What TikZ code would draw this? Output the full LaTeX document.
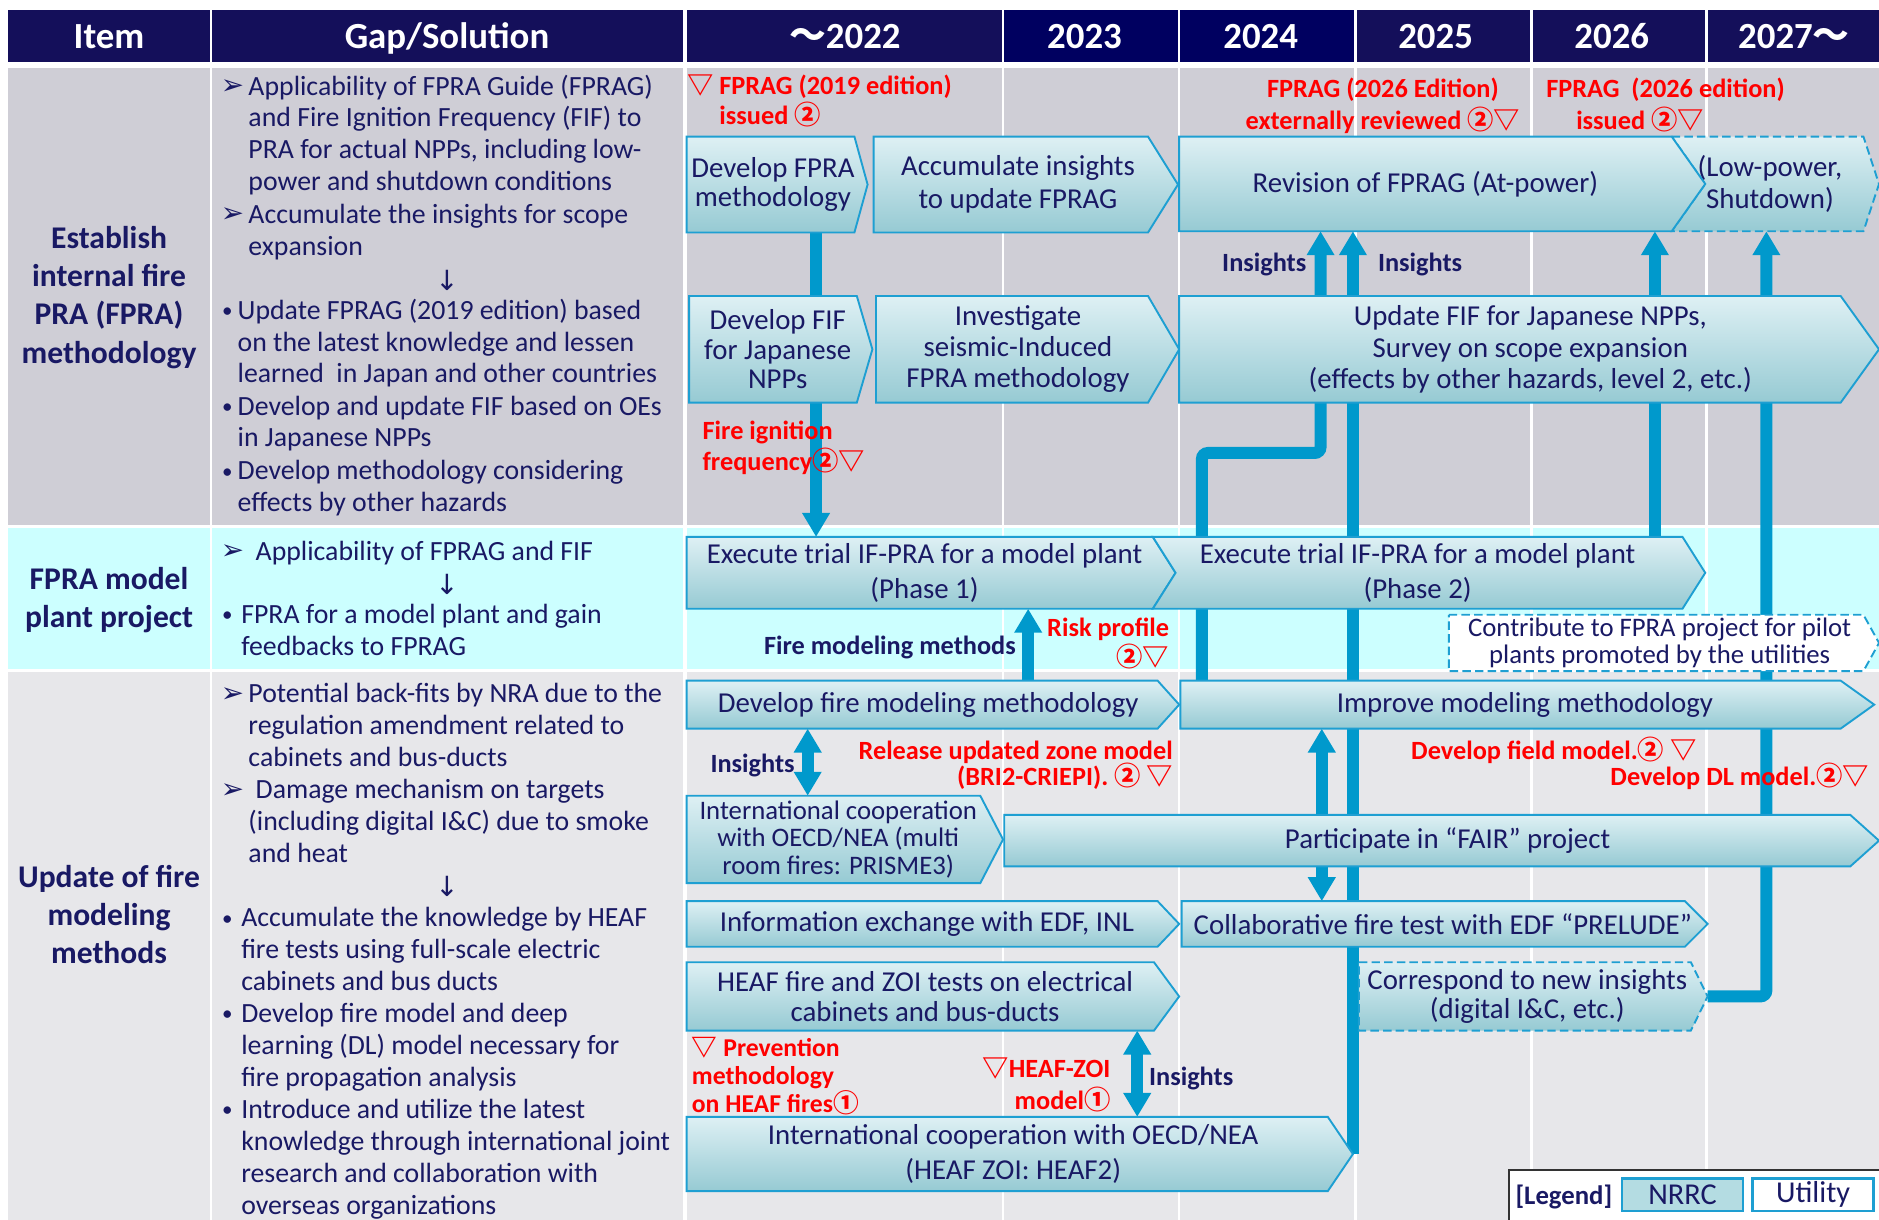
\documentclass[tikz,border=0pt]{standalone}
\usepackage{fontspec}
\setmainfont{Carlito}
\newfontfamily\symf{DejaVu Sans}
\newfontfamily\cjkf{Noto Sans CJK JP}
\usepackage{tikz}
\usetikzlibrary{
	arrows.meta,
	calc
}
\usepackage{xcolor}

\definecolor{navy}{RGB}{20,15,90}
\definecolor{navyB}{RGB}{0,0,96}
\definecolor{ink}{RGB}{25,25,100}
\definecolor{rowA}{RGB}{207,206,214}
\definecolor{rowB}{RGB}{204,255,255}
\definecolor{rowC}{RGB}{231,231,234}
\definecolor{flowblue}{RGB}{0,153,204}
\definecolor{edgeblue}{RGB}{30,159,210}
\definecolor{boxtop}{RGB}{222,240,244}
\definecolor{boxbot}{RGB}{150,202,211}
\definecolor{legfill}{RGB}{180,220,226}
\definecolor{alert}{RGB}{255,0,0}

\newlength{\px}
\setlength{\px}{0.02cm}

\newcommand{\gapfont}{\fontsize{13.2}{15.14}\selectfont\lineskiplimit=-50pt}
\newcommand{\boxfont}{\fontsize{13.7}{14}\selectfont\lineskiplimit=-50pt}
\newcommand{\smallboxfont}{\fontsize{12.7}{13.1}\selectfont\lineskiplimit=-50pt}
\newcommand{\itemfont}{\fontsize{15}{18.2}\selectfont\bfseries\lineskiplimit=-50pt}
\newcommand{\headfont}{\fontsize{17.5}{20}\selectfont\bfseries}
\newcommand{\notefont}[1][14]{\fontsize{12.5}{#1}\selectfont\bfseries\lineskiplimit=-50pt}

\newcommand{\dtri}{{\cjkf ▽}}
\newcommand{\cone}{{\cjkf ①}}
\newcommand{\ctwo}{{\cjkf ②}}
\newcommand{\harr}{{\symf ➢}}
\newcommand{\darr}{{\symf ↓}}
\newcommand{\bul}{\raisebox{0.6pt}{\fontsize{10}{10}\selectfont •}}

\pgfdeclarelayer{bg}
\pgfdeclarelayer{lines}
\pgfsetlayers{bg,lines,main}

\tikzset{
	chev/.style={draw=edgeblue, line width=0.9pt, top color=boxtop, bottom color=boxbot},
	dashchev/.style={dash pattern=on 4pt off 2pt},
	boxtext/.style={font=\boxfont, text=ink, align=center, inner sep=0pt},
	gaptext/.style={font=\gapfont, text=ink, align=left, anchor=north west, inner sep=0pt},
	bulletmk/.style={font=\gapfont, text=ink, anchor=base west, inner sep=0pt},
	itemtext/.style={font=\itemfont, text=ink, align=center, inner sep=0pt},
	headtext/.style={font=\headfont, text=white, anchor=base, inner sep=0pt},
	note/.style={font=\notefont, text=alert, inner sep=0pt},
	insight/.style={font=\notefont, text=ink, inner sep=0pt},
	flow/.style={draw=flowblue, line width=0.2cm, -{Triangle[length=0.4cm, width=0.44cm]}},
	flowboth/.style={draw=flowblue, line width=0.2cm, {Triangle[length=0.4cm, width=0.44cm]}-{Triangle[length=0.4cm, width=0.44cm]}}
}

% chevron box: [path style]{name}{x,y top left}{x,y bottom right}{tip}{notch}{node options}{text}
\newcommand{\chevbox}[8][]{%
	\coordinate (#2-nw) at (#3);
	\coordinate (#2-se) at (#4);
	\coordinate (#2-ne) at (#2-nw -| #2-se);
	\coordinate (#2-sw) at (#2-se -| #2-nw);
	\coordinate (#2-tip) at ($(#2-ne)!.5!(#2-se)+(#5,0)$);
	\path[chev,#1] (#2-nw) -- (#2-ne) -- (#2-tip) -- (#2-se) -- (#2-sw)
		-- ($(#2-sw)!.5!(#2-nw)+(#6,0)$) -- cycle;
	\node[boxtext,#7] (#2) at ($(#2-nw)!.5!(#2-se)$) {#8};
}

\begin{document}
\begin{tikzpicture}[x=0.02cm,y=-0.02cm]
		
		\useasboundingbox (0,0) rectangle (1568,1018);
		
		%---------------- Table ----------------%
		
		\begin{pgfonlayer}{bg}
			\fill[white] (0,0) rectangle (1568,1018);
			\foreach \xa/\xb/\hc in {7/175/navy,177/570/navy,573/836/navy,838/983/navyB,985/1130/navyB,1132/1277/navy,1279/1423/navy,1425/1568/navy}{
				\fill[\hc] (\xa,8) rectangle (\xb,52);
				\foreach \ya/\yb/\rc in {57/438/rowA,441/558/rowB,561/1018/rowC}
				\fill[\rc] (\xa,\ya) rectangle (\xb,\yb);
			}
		\end{pgfonlayer}
		
		\node[headtext] (hitem) at (91,40.5) {Item};
		\node[headtext] (hgap) at (373,40.5) {Gap/Solution};
		\node[headtext] (h22) at (705,40.5) {{\cjkf ～}2022};
		\node[headtext] (h23) at (905,40.5) {2023};
		\node[headtext] (h24) at (1052,40.5) {2024};
		\node[headtext] (h25) at (1198,40.5) {2025};
		\node[headtext] (h26) at (1345,40.5) {2026};
		\node[headtext] (h27) at (1497,40.5) {2027{\cjkf ～}};
		
		%---------------- Item ----------------%
		
		\node[itemtext] (it1) at (91,248) {Establish\\internal fire\\PRA (FPRA)\\methodology};
		\node[itemtext] (it2) at (91,501) {FPRA model\\plant project};
		\node[itemtext] (it3) at (91,763) {Update of fire\\modeling\\methods};
		
		%---------------- Gap/Solution ----------------%
		
		\node[bulletmk] (m11) at (184,79) {\harr};
		\node[gaptext] (g11) at (207,60.35)
		{\strut Applicability of FPRA Guide (FPRAG)\\and Fire Ignition Frequency (FIF) to\\PRA for actual NPPs, including low-\\power and shutdown conditions};
		\node[bulletmk] (m12) at (184,186) {\harr};
		\node[gaptext] (g12) at (207,167.35) {\strut Accumulate the insights for scope\\expansion};
		\node[font=\gapfont,text=ink] (d1) at (373,234) {\darr};
		\node[bulletmk] (m13) at (185,266) {\bul};
		\node[gaptext] (g13) at (198,247.35)
		{\strut Update FPRAG (2019 edition) based\\on the latest knowledge and lessen\\learned\ \ in Japan and other countries};
		\node[bulletmk] (m14) at (185,346) {\bul};
		\node[gaptext] (g14) at (198,327.35) {\strut Develop and update FIF based on OEs\\in Japanese NPPs};
		\node[bulletmk] (m15) at (185,400) {\bul};
		\node[gaptext] (g15) at (198,381.35) {\strut Develop methodology considering\\effects by other hazards};
		
		\node[bulletmk] (m21) at (184,467) {\harr};
		\node[gaptext] (g21) at (213,448.35) {\strut Applicability of FPRAG and FIF};
		\node[font=\gapfont,text=ink] (d2) at (373,488) {\darr};
		\node[bulletmk] (m22) at (185,520) {\bul};
		\node[gaptext] (g22) at (201,501.35) {\strut FPRA for a model plant and gain\\feedbacks to FPRAG};
		
		\node[bulletmk] (m31) at (184,586) {\harr};
		\node[gaptext] (g31) at (207,567.35)
		{\strut Potential back-fits by NRA due to the\\regulation amendment related to\\cabinets and bus-ducts};
		\node[bulletmk] (m32) at (184,666) {\harr};
		\node[gaptext] (g32) at (207,647.35)
		{\strut\hspace*{6\px}Damage mechanism on targets\\(including digital I\&C) due to smoke\\and heat};
		\node[font=\gapfont,text=ink] (d3) at (373,740) {\darr};
		\node[bulletmk] (m33) at (185,773) {\bul};
		\node[gaptext] (g33) at (201,754.35)
		{\strut Accumulate the knowledge by HEAF\\fire tests using full-scale electric\\cabinets and bus ducts};
		\node[bulletmk] (m34) at (185,853) {\bul};
		\node[gaptext] (g34) at (201,834.35)
		{\strut Develop fire model and deep\\learning (DL) model necessary for\\fire propagation analysis};
		\node[bulletmk] (m35) at (185,933) {\bul};
		\node[gaptext] (g35) at (201,914.35)
		{\strut Introduce and utilize the latest\\knowledge through international joint\\research and collaboration with\\overseas organizations};
		
		%---------------- FPRA methodology ----------------%
		
		\chevbox{dfpra}{573,114}{713,194}{11}{0}{xshift=2\px}{Develop FPRA\\methodology}
		\chevbox{accum}{729,114}{958,194}{25}{0}{xshift=6\px}{Accumulate insights\\[1.9pt]to update FPRAG}
		\chevbox[dashchev]{lowp}{1395,114}{1555,193}{13}{28}{xshift=2\px}{(Low-power,\\[1.4pt]Shutdown)}
		\chevbox{rev}{984,114}{1395,193}{28}{0}{}{Revision of FPRAG (At-power)}
		\chevbox{dfif}{575,247}{715,336}{13}{0}{xshift=4\px}{Develop FIF\\for Japanese\\NPPs}
		\chevbox{seis}{731,247}{958,336}{26}{0}{xshift=5\px}{Investigate\\[0.8pt]seismic-Induced\\[0.8pt]FPRA methodology}
		\chevbox{ufif}{984,247}{1536,336}{32}{0}{xshift=17\px}{Update FIF for Japanese NPPs,\\[1pt]Survey on scope expansion\\[1pt](effects by other hazards, level 2, etc.)}
		
		%---------------- Model plant ----------------%
		
		\chevbox{ph1}{573,448}{962,508}{19}{0}{xshift=4\px}{Execute trial IF-PRA for a model plant\\[2.5pt](Phase 1)}
		\chevbox{ph2}{962,448}{1404,508}{19}{19}{}{Execute trial IF-PRA for a model plant\\[2.5pt](Phase 2)}
		\chevbox[dashchev,top color=white,bottom color=white]{contrib}{1209,513}{1555,560}{13}{0}{xshift=3\px,font=\smallboxfont}{Contribute to FPRA project for pilot\\plants promoted by the utilities}
		
		%---------------- Fire modeling ----------------%
		
		\chevbox{dfire}{573,568}{966,608}{18}{0}{xshift=5\px}{Develop fire modeling methodology}
		\chevbox{impr}{985,568}{1536,608}{28}{0}{xshift=12\px}{Improve modeling methodology}
		\chevbox{prisme}{573,664}{818,737}{19}{0}{xshift=4\px,font=\smallboxfont}{International cooperation\\with OECD/NEA (multi\\room fires: PRISME3)}
		\chevbox{fair}{838,680}{1544,723}{24}{0}{xshift=17\px}{Participate in “FAIR” project}
		\chevbox{info}{573,752}{966,790}{18}{0}{xshift=4\px}{Information exchange with EDF, INL}
		\chevbox{collab}{986,752}{1406,790}{19}{0}{xshift=8\px}{Collaborative fire test with EDF “PRELUDE”}
		\chevbox{heaf}{573,803}{963,860}{21}{0}{xshift=4\px}{HEAF fire and ZOI tests on electrical\\[0.2pt]cabinets and bus-ducts}
		\chevbox[dashchev]{corr}{1134,803}{1411,860}{14}{0}{xshift=2\px}{Correspond to new insights\\[0.2pt](digital I\&C, etc.)}
		\chevbox{heaf2}{573,932}{1108,994}{21}{0}{xshift=5\px}{International cooperation with OECD/NEA\\[2.5pt](HEAF ZOI: HEAF2)}
		
		%---------------- Connectors ----------------%
		
		\coordinate (xfprag) at (681,0);
		\coordinate (xins) at (1102,0);
		\coordinate (xmodel) at (1003,0);
		\coordinate (mdlkink) at (1102,378);
		\coordinate (xph2) at (1381,0);
		\coordinate (xcorr) at (1474,0);
		\coordinate (xrisk) at (858,0);
		\coordinate (xzone) at (674,0);
		\coordinate (xfair) at (1103,0);
		\coordinate (xheaf) at (949,0);
		
		\begin{pgfonlayer}{lines}
			\draw[flow] (xfprag |- dfpra-se) -- (xfprag |- ph1-nw);
			\draw[flow,rounded corners=0.1cm] (xmodel |- impr-nw) |- (mdlkink) -- (xins |- rev-se);
			\draw[flow] (heaf2-tip) -- (heaf2-tip |- rev-se);
			\draw[flow] (xph2 |- ph2-nw) -- (xph2 |- rev-se);
			\draw[flow,rounded corners=0.1cm] (corr-tip) -| (xcorr |- lowp-se);
			\draw[flow] (xrisk |- dfire-nw) -- (xrisk |- ph1-se);
			\draw[flowboth] (xzone |- dfire-se) -- (xzone |- prisme-nw);
			\draw[flowboth] (xfair |- impr-se) -- (xfair |- collab-nw);
			\draw[flowboth] (xheaf |- heaf-se) -- (xheaf |- heaf2-nw);
		\end{pgfonlayer}
		
		%---------------- Labels ----------------%
		
		\node[note,font={\notefont[14.2]},align=left,anchor=west] (n1) at (573,84.5)
		{\dtri\ FPRAG (2019 edition)\\\hspace*{27\px}issued \ctwo};
		\node[note,font={\notefont[15.6]},align=center] (n2) at (1154,88.3)
		{FPRAG (2026 Edition)\\externally reviewed \ctwo\dtri};
		\node[note,font={\notefont[15.3]},align=left,anchor=west] (n3) at (1290,87.5)
		{FPRAG\ \ (2026 edition)\\\hspace*{25\px}issued \ctwo\dtri};
		\node[note,font={\notefont[14.7]},align=left,anchor=west] (n4) at (586,373.5)
		{Fire ignition\\frequency\ctwo\dtri};
		\node[note,font={\notefont[14.2]},align=right,anchor=east] (n5) at (976,537)
		{Risk profile\\\ctwo\dtri};
		\node[note,font={\notefont[12.7]},align=right,anchor=east] (n6) at (979,638.5)
		{Release updated zone model\\(BRI2-CRIEPI). \ctwo\ \dtri};
		\node[note,anchor=east] (n7) at (1416,626) {Develop field model.\ctwo\ \dtri};
		\node[note,anchor=east] (n8) at (1560,648) {Develop DL model.\ctwo\dtri};
		\node[note,font={\fontsize{12.2}{13.3}\selectfont\bfseries\lineskiplimit=-50pt},align=left,anchor=west] (n9) at (577,898)
		{\dtri\ Prevention\\methodology\\on HEAF fires\cone};
		\node[note,font={\notefont[15.1]},align=right,anchor=east] (n10) at (927,905.5)
		{\dtri HEAF-ZOI\\model\cone};
		
		\node[insight] (ins1) at (1055,221) {Insights};
		\node[insight] (ins2) at (1185,221) {Insights};
		\node[insight,anchor=east] (fmm) at (848,540) {Fire modeling methods};
		\node[insight] (ins3) at (628,639) {Insights};
		\node[insight] (ins4) at (994,900) {Insights};
		
		%---------------- Legend ----------------%
		
		\draw[black!80,line width=1pt,fill=white] (1259,976) rectangle (1590,1040);
		\node[insight,font=\fontsize{12.7}{14}\selectfont\bfseries] (leg) at (1305,999) {[Legend]};
		\node[draw=edgeblue,line width=1.1pt,fill=legfill,minimum width=2.02cm,minimum height=0.54cm,inner sep=0pt,font=\fontsize{14.4}{16}\selectfont,text=ink] (legnrrc) at (1404,997) {NRRC};
		\node[draw=edgeblue,line width=1.1pt,fill=white,minimum width=2.02cm,minimum height=0.54cm,inner sep=0pt,font=\fontsize{14.4}{16}\selectfont,text=ink] (legutil) at (1513,997) {Utility};
		
	\end{tikzpicture}
\end{document}
